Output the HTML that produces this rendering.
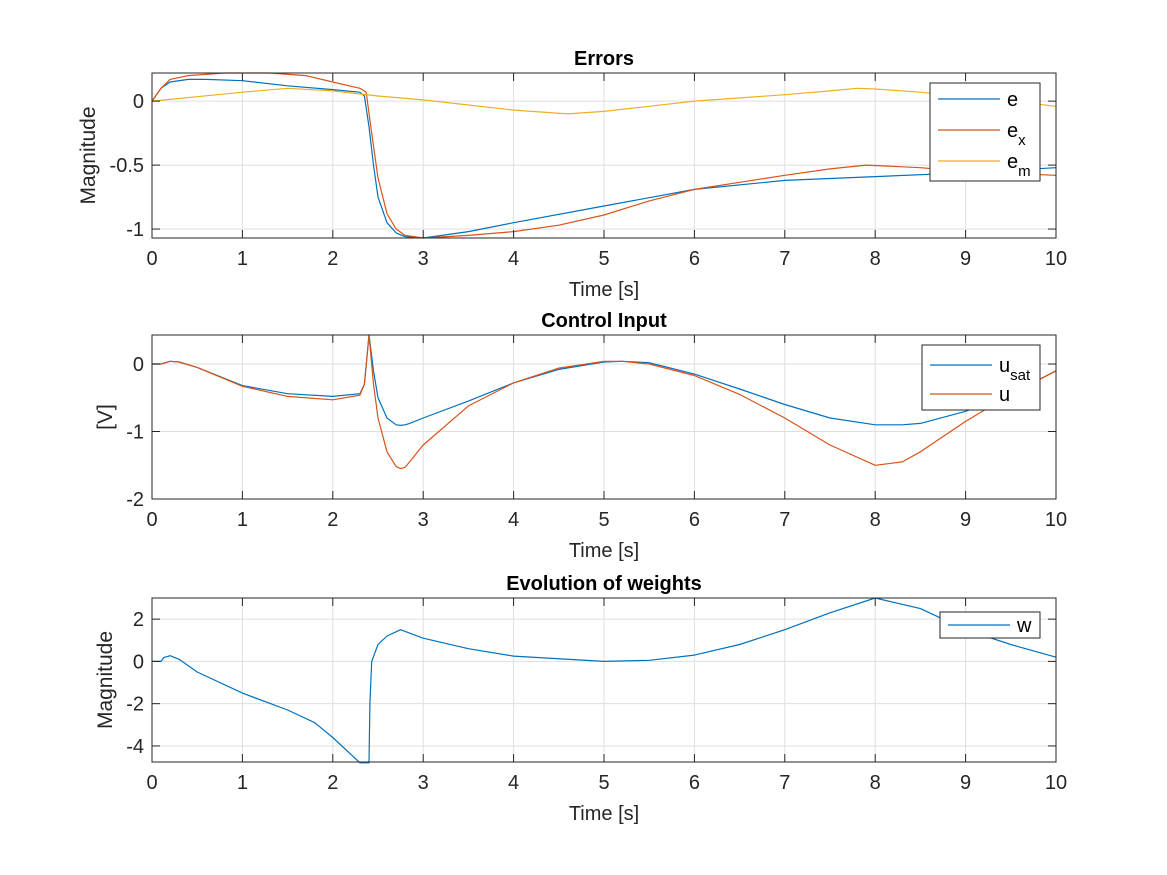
<!DOCTYPE html>
<html><head><meta charset="utf-8"><style>
html,body{margin:0;padding:0;background:#fff;}
svg{display:block;font-family:"Liberation Sans",Helvetica,Arial,sans-serif;}
</style></head><body>
<svg id="fig" width="1167" height="875" viewBox="0 0 1167 875"></svg>
<script>
const xTicks=[0,1,2,3,4,5,6,7,8,9,10];
const t1=[0,0.1,0.2,0.4,0.6,1,1.5,2,2.3,2.35,2.4,2.45,2.5,2.6,2.7,2.8,3,3.5,4,5,6,7,8,9,10];
const eVals=[0,0.1,0.15,0.17,0.17,0.16,0.12,0.09,0.07,0.04,-0.2,-0.5,-0.75,-0.95,-1.03,-1.06,-1.07,-1.02,-0.95,-0.82,-0.69,-0.62,-0.59,-0.56,-0.52];
const t2=[0,0.1,0.2,0.4,0.8,1.3,1.7,2,2.3,2.37,2.42,2.5,2.6,2.7,2.8,3,3.5,4,4.5,5,5.5,6,7,7.5,7.9,8.5,9,10];
const exVals=[0,0.1,0.17,0.2,0.22,0.22,0.2,0.15,0.1,0.07,-0.2,-0.6,-0.88,-1.0,-1.05,-1.07,-1.05,-1.02,-0.97,-0.89,-0.78,-0.69,-0.58,-0.53,-0.5,-0.52,-0.55,-0.58];
const t3=[0,0.5,1,1.5,2,2.5,3,3.5,4,4.6,5,5.5,6,7,7.5,7.8,8,8.5,9,9.5,10];
const emVals=[0,0.035,0.07,0.1,0.08,0.04,0.01,-0.03,-0.07,-0.1,-0.08,-0.04,0,0.05,0.08,0.1,0.095,0.07,0.03,0,-0.04];
const tu=[0,0.1,0.2,0.3,0.5,1,1.5,2,2.3,2.35,2.4,2.45,2.5,2.6,2.7,2.75,2.8,2.85,3,3.5,4,4.5,5,5.2,5.5,6,6.5,7,7.5,8,8.3,8.5,9,9.5,10];
const usatVals=[0,0,0.04,0.03,-0.05,-0.32,-0.44,-0.48,-0.44,-0.3,0.43,-0.1,-0.5,-0.8,-0.9,-0.91,-0.9,-0.88,-0.8,-0.55,-0.28,-0.08,0.03,0.04,0.02,-0.15,-0.37,-0.6,-0.8,-0.9,-0.9,-0.88,-0.7,-0.45,-0.1];
const uVals=[0,0,0.04,0.03,-0.05,-0.33,-0.48,-0.53,-0.46,-0.3,0.43,-0.3,-0.8,-1.3,-1.52,-1.55,-1.53,-1.45,-1.2,-0.62,-0.28,-0.06,0.04,0.04,0,-0.17,-0.45,-0.8,-1.2,-1.5,-1.45,-1.3,-0.85,-0.45,-0.1];
const tw=[0,0.1,0.13,0.2,0.3,0.5,1,1.5,1.8,2,2.3,2.4,2.41,2.43,2.5,2.6,2.75,3,3.5,4,5,5.5,6,6.5,7,7.5,8,8.5,9,9.5,10];
const wVals=[0,0,0.18,0.27,0.1,-0.5,-1.5,-2.3,-2.9,-3.6,-4.8,-4.8,-2,0,0.8,1.2,1.5,1.1,0.6,0.25,0,0.05,0.3,0.8,1.5,2.3,3.0,2.5,1.5,0.8,0.2];
const yTicks1=[-1,-0.5,0], yLab1=["-1","-0.5","0"];
const yTicks2=[-2,-1,0], yLab2=["-2","-1","0"];
const yTicks3=[-4,-2,0,2], yLab3=["-4","-2","0","2"];

const NS="http://www.w3.org/2000/svg";
const svg=document.getElementById('fig');
function mk(tag,attrs,parent){const e=document.createElementNS(NS,tag);for(const k in attrs)e.setAttribute(k,attrs[k]);(parent||svg).appendChild(e);return e;}
const X0=152,X1=1056;
function sx(v){return X0+(v-0)/(10-0)*(X1-X0);}
const BLUE="#0072BD",ORANGE="#D95319",YEL="#EDB120";

function axes(cfg){
  const g=mk('g',{});
  
  
  const sy=v=>cfg.top+(cfg.ymax-v)/(cfg.ymax-cfg.ymin)*(cfg.bot-cfg.top);
  xTicks.forEach(t=>{const l=mk('line',{x1:sx(t),x2:sx(t),y1:cfg.top,y2:cfg.bot,stroke:'#dfdfdf','stroke-width':1},g);});
  cfg.yt.forEach(t=>{const l=mk('line',{x1:X0,x2:X1,y1:sy(t),y2:sy(t),stroke:'#dfdfdf','stroke-width':1},g);});
  cfg.series.forEach(s=>{
    const pts=s.t.map((t,i)=>sx(t).toFixed(1)+','+sy(s.v[i]).toFixed(1)).join(' ');
    const p=mk('polyline',{points:pts,fill:'none',stroke:s.c,'stroke-width':1.2,'stroke-linejoin':'round'},g);
    
    
  });
  const b=mk('rect',{x:X0,y:cfg.top,width:X1-X0,height:cfg.bot-cfg.top,fill:'none',stroke:'#262626','stroke-width':1},g);
  
  xTicks.forEach(t=>{
    mk('line',{x1:sx(t),x2:sx(t),y1:cfg.bot,y2:cfg.bot-8,stroke:'#262626'},g);
    mk('line',{x1:sx(t),x2:sx(t),y1:cfg.top,y2:cfg.top+8,stroke:'#262626'},g);
    const tx=mk('text',{x:sx(t),y:cfg.bot+27,'font-size':20,fill:'#262626','text-anchor':'middle'},g);tx.textContent=t;
    
  });
  cfg.yt.forEach((t,i)=>{
    mk('line',{x1:X0,x2:X0+8,y1:sy(t),y2:sy(t),stroke:'#262626'},g);
    mk('line',{x1:X1,x2:X1-8,y1:sy(t),y2:sy(t),stroke:'#262626'},g);
    const tx=mk('text',{x:X0-8,y:sy(t)+7,'font-size':20,fill:'#262626','text-anchor':'end'},g);tx.textContent=cfg.yl[i];
    
  });
  const ti=mk('text',{x:(X0+X1)/2,y:cfg.top-8,'font-size':20,'font-weight':'bold',fill:'#000','text-anchor':'middle'},g);ti.textContent=cfg.title;
  
  const xl=mk('text',{x:(X0+X1)/2,y:cfg.bot+58,'font-size':20,fill:'#262626','text-anchor':'middle'},g);xl.textContent='Time [s]';
  
  const yx=cfg.ylx,yy=(cfg.top+cfg.bot)/2;
  const yl=mk('text',{x:yx,y:yy,'font-size':21,fill:'#262626','text-anchor':'middle',transform:`rotate(-90 ${yx} ${yy})`},g);yl.textContent=cfg.ylabel;
  
  const L=cfg.leg;
  const lg=mk('g',{},g);
  mk('rect',{x:L.x,y:L.y,width:L.w,height:L.h,fill:'#fff',stroke:'#262626','stroke-width':1},lg);
  L.items.forEach((it,i)=>{
    const yy=L.y+L.y0+i*L.dy;
    const ln=mk('line',{x1:L.x+8,x2:L.x+70,y1:yy,y2:yy,stroke:it.c,'stroke-width':1.2},lg);
    
    const tx=mk('text',{x:L.x+77,y:yy+7,'font-size':20,fill:'#000'},lg);
    
    tx.appendChild(document.createTextNode(it.l));
    if(it.sub){const ts=mk('tspan',{dy:8,'font-size':15},tx);ts.textContent=it.sub;}
  });
}
axes({name:'errors-axes',top:73,bot:238,ymin:-1.07,ymax:0.22,yt:yTicks1,yl:yLab1,title:'Errors',ylabel:'Magnitude',ylx:95,
  series:[{t:t1,v:eVals,c:BLUE,name:'e-line'},{t:t2,v:exVals,c:ORANGE,name:'ex-line'},{t:t3,v:emVals,c:YEL,name:'em-line'}],
  leg:{x:930,y:83,w:110,h:98,y0:16,dy:31,items:[{l:'e',c:BLUE},{l:'e',sub:'x',c:ORANGE},{l:'e',sub:'m',c:YEL}]}});
axes({name:'control-input-axes',top:335,bot:499,ymin:-2,ymax:0.43,yt:yTicks2,yl:yLab2,title:'Control Input',ylabel:'[V]',ylx:112,
  series:[{t:tu,v:usatVals,c:BLUE,name:'usat-line'},{t:tu,v:uVals,c:ORANGE,name:'u-line'}],
  leg:{x:922,y:345,w:118,h:65,y0:20,dy:29,items:[{l:'u',sub:'sat',c:BLUE},{l:'u',c:ORANGE}]}});
axes({name:'weights-axes',top:598,bot:762,ymin:-4.76,ymax:3.0,yt:yTicks3,yl:yLab3,title:'Evolution of weights',ylabel:'Magnitude',ylx:112,
  series:[{t:tw,v:wVals,c:BLUE,name:'w-line'}],
  leg:{x:940,y:612,w:100,h:26,y0:13,dy:0,items:[{l:'w',c:BLUE}]}});
</script>
</body></html>
